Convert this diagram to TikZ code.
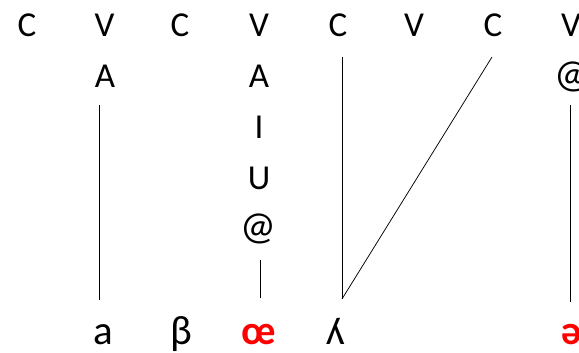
\documentclass[tikz,border=0pt]{standalone}
\usepackage{fontspec}
\setmainfont{Carlito}
\newfontfamily\ipafont{Carlito}
\definecolor{ipared}{RGB}{255,0,0}
\tikzset{
  seg/.style={anchor=base, inner sep=0pt, font=\fontsize{35}{42}\selectfont},
  atsign/.style={anchor=base, inner sep=0pt, font=\fontsize{40}{48}\selectfont},
  phon/.style={anchor=base, inner sep=0pt, font=\fontsize{41}{48}\selectfont\ipafont},
  hot/.style={phon, text=ipared, font=\fontsize{41}{48}\selectfont\ipafont\bfseries},
  assoc/.style={line width=0.75pt, black}
}
\begin{document}
\begin{tikzpicture}[x=1pt,y=-1pt]
\useasboundingbox (0,0) rectangle (579,353);
\clip (0,0) rectangle (579,353);
% skeleton
\node[seg] (c1) at (27,36.7) {C};
\node[seg] (v1) at (104.5,36.7) {V};
\node[seg] (c2) at (180,36.7) {C};
\node[seg] (v2) at (259,36.7) {V};
\node[seg] (c3) at (338,36.7) {C};
\node[seg] (v3) at (414,36.7) {V};
\node[seg] (c4) at (493,36.7) {C};
\node[seg] (v4) at (571,36.7) {V};
% elements
\node[seg] (a1) at (105,88) {A};
\node[seg] (a2) at (259,88) {A};
\node[seg] (i2) at (259,138.5) {I};
\node[seg] (u2) at (259,189) {U};
\node[atsign] (s2) at (258,239) {@};
\node[atsign] (s4) at (572,87.5) {@};
% output
\node[phon] (o1) at (103,344.5) {a};
\node[phon] (o2) at (181,344.5) {β};
\node[hot]  (o3) at (259,344.5) {œ};
\node[phon] (o4) at (336,344.5) {ʎ};
\node[hot]  (o5) at (572,344.5) {ə};
% line ends
\coordinate (t1) at (99,105);   \coordinate (b1) at (99,300);
\coordinate (t2) at (260,260);  \coordinate (b2) at (260,298);
\coordinate (t3) at (342,57);   \coordinate (b3) at (342,299);
\coordinate (t4) at (492,57);
\coordinate (t5) at (570,105);  \coordinate (b5) at (570,302);
\draw[assoc] (t1) -- (b1);
\draw[assoc] (t2) -- (b2);
\draw[assoc] (t3) -- (b3);
\draw[assoc] (t4) -- (b3);
\draw[assoc] (t5) -- (b5);
\end{tikzpicture}
\end{document}
